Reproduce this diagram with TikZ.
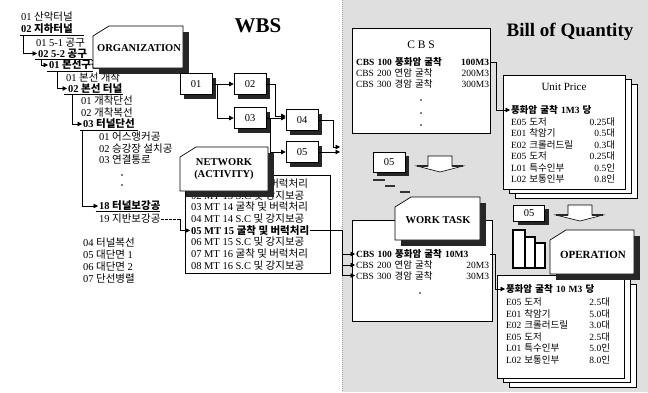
\documentclass[tikz,border=0pt]{standalone}
\usepackage{fontspec}
\setmainfont{Liberation Serif}
\newfontfamily\krf[Scale=1.0]{Noto Sans CJK KR}
\newcommand\hk[1]{{\krf #1}}
\usetikzlibrary{arrows.meta,shadows}
\newcommand\chbox[4]{%
  \fill[black!85] ({#1+6},{#2+6}) rectangle ({#3+6},{#4+6});
  \filldraw[fill=white,line width=0.7pt] (#1,{#2+10}) -- ({#1+16},#2) -- (#3,#2) -- (#3,#4) -- (#1,#4) -- cycle;}
\newcommand\pagestack[4]{%
  \filldraw[fill=white,line width=0.7pt] ({#1+12},{#2+9}) rectangle ({#3+12},{#4+9});
  \filldraw[fill=white,line width=0.7pt] ({#1+6},{#2+4}) rectangle ({#3+6},{#4+4});
  \filldraw[fill=white,line width=0.7pt] (#1,#2) rectangle (#3,#4);}
\begin{document}
\begin{tikzpicture}[x=1pt,y=-1pt,
  lt/.style={anchor=west,inner sep=0pt,outer sep=1pt,font=\fontsize{10.5}{11}\selectfont},
  bt/.style={font=\fontsize{10.5}{11}\selectfont\bfseries},
  vrow/.style={anchor=west,inner sep=0pt,outer sep=1pt,text width=#1,font=\fontsize{9.5}{10}\selectfont},
  ln/.style={line width=0.6pt},
  arr/.style={line width=0.6pt,-{Triangle[length=4.5pt,width=4.5pt]}},
  dotmark/.style={circle,fill=black,inner sep=0pt,minimum size=1.6pt},
  sbox/.style={draw,fill=white,line width=0.6pt,minimum width=32pt,minimum height=21pt,inner sep=0pt,
     font=\fontsize{10.5}{11}\selectfont,
     drop shadow={shadow xshift=4pt,shadow yshift=-4pt,fill=black!85,opacity=1}},
  title/.style={inner sep=0pt,font=\fontsize{10.5}{12.5}\selectfont\bfseries,align=center}
]
\useasboundingbox (0,0) rectangle (648,392);
\fill[gray!25] (342,0) rectangle (648,392);
\draw[gray!70,dash pattern=on 1pt off 1pt] (342,0) -- (342,392);

% ---------------- left tree ----------------
\node[lt] (t1) at (20,17) {01 \hk{산악터널}};
\node[lt,bt] (t2) at (20,29) {02 \hk{지하터널}};
\draw[ln] (20,35.5) -- (84,35.5);
\coordinate (u2) at (23,35.5);
\node[lt] (t3) at (35,43) {01 5-1 \hk{공구}};
\node[lt,bt] (t4) at (37,53.5) {02 5-2 \hk{공구}};
\draw[ln] (35,59) -- (92,59);
\coordinate (u4) at (41,59);
\node[lt,bt] (t5) at (48,65) {01 \hk{본선구간}};
\draw[ln] (47,71) -- (93,71);
\coordinate (u5) at (57,71);
\node[lt] (t6) at (65,77.5) {01 \hk{본선 개착}};
\node[lt,bt] (t7) at (67,88.5) {02 \hk{본선 터널}};
\draw[ln] (64,94.5) -- (123,94.5);
\coordinate (u7) at (72,94.5);
\node[lt] (t8) at (80,101) {01 \hk{개착단선}};
\node[lt] (t9) at (80,112.5) {02 \hk{개착복선}};
\node[lt,bt] (t10) at (82,124) {03 \hk{터널단선}};
\draw[ln] (80,130) -- (138,130);
\coordinate (u10) at (82,130);
\node[lt] (t11) at (98,137) {01 \hk{어스앵커공}};
\node[lt] (t12) at (98,148.5) {02 \hk{승강장 설치공}};
\node[lt] (t13) at (98,160) {03 \hk{연결통로}};
\node[dotmark] (d1) at (122,175) {};
\node[dotmark] (d2) at (122,185) {};
\node[lt,bt] (t14) at (98,206) {18 \hk{터널보강공}};
\draw[ln] (96,211.5) -- (160,211.5);
\node[lt] (t15) at (98,219) {19 \hk{지반보강공}};
\node[lt] (t16) at (82,243) {04 \hk{터널복선}};
\node[lt] (t17) at (82,255) {05 \hk{대단면} 1};
\node[lt] (t18) at (82,267) {06 \hk{대단면} 2};
\node[lt] (t19) at (82,279) {07 \hk{단선병렬}};
\draw[arr] (u2) |- (t4);
\draw[arr] (u4) |- (t5);
\draw[arr] (u5) |- (t7);
\draw[arr] (u7) |- (t10);
\draw[arr] (u10) |- (t14);

% ORGANIZATION
\chbox{93}{26}{183}{68}
\node[title] (org) at (139,48) {ORGANIZATION};

% WBS title
\node[inner sep=0pt,font=\fontsize{21}{24}\selectfont\bfseries] (wbs) at (258,26) {WBS};

% WBS boxes
\node[sbox] (b1) at (196,84) {01};
\node[sbox] (b2) at (250,84) {02};
\node[sbox] (b3) at (250,118) {03};
\node[sbox] (b4) at (302,120) {04};
\node[sbox] (b5) at (302,152) {05};
\coordinate (o1) at (340,147);
\coordinate (o2) at (340,152);
\draw[arr] (b1) -- (b2);
\draw[arr] (b1.east) -- ++(5,0) |- (b3);
\draw[arr] (b2.east) -- ++(9,0) |- ([yshift=4pt]b4.west);
\draw[arr] (b3.east) -- (b3.east -| b4.west);
\draw[arr] (b3.east) -- ++(4,0) |- (b5);
\draw[arr] (b4.east) -- ++(15,0) |- (o1);
\draw[arr] (b5.east) -- (o2);

% activity list
\filldraw[fill=white,line width=0.6pt] (185,175) rectangle (330,273);
\node[lt] (a1) at (190,184) {01 MT 13 \hk{굴착 및 버럭처리}};
\node[lt] (a2) at (190,195.5) {02 MT 13 S.C \hk{및 강지보공}};
\node[lt] (a3) at (190,207) {03 MT 14 \hk{굴착 및 버럭처리}};
\node[lt] (a4) at (190,219) {04 MT 14 S.C \hk{및 강지보공}};
\node[lt,bt] (a5) at (190,230.5) {05 MT 15 \hk{굴착 및 버럭처리}};
\node[lt] (a6) at (190,242) {06 MT 15 S.C \hk{및 강지보공}};
\node[lt] (a7) at (190,254) {07 MT 16 \hk{굴착 및 버럭처리}};
\node[lt] (a8) at (190,265.5) {08 MT 16 S.C \hk{및 강지보공}};
\chbox{180}{147}{268}{191}
\node[title] (nw) at (224,169) {NETWORK\\(ACTIVITY)};
\coordinate (dd) at (180,219);
\draw[line width=0.6pt,dash pattern=on 2.5pt off 1.5pt] (t15.east) -- (dd);
\draw[arr] (dd) |- (a5);

% ---------------- right side ----------------
\node[inner sep=0pt,font=\fontsize{19}{22}\selectfont\bfseries] (boq) at (570,32) {Bill of Quantity};

% CBS box
\filldraw[fill=white,line width=0.6pt] (352,28) rectangle (490,133);
\node[inner sep=0pt,font=\fontsize{11.5}{12}\selectfont] (cbst) at (421,45) {C B S};
\node[vrow=133pt] (c1) at (355,62) {\bfseries CBS 100 \hk{풍화암 굴착}\hfill 100M3};
\node[vrow=133pt] (c2) at (355,73) {CBS 200 \hk{연암 굴착}\hfill 200M3};
\node[vrow=133pt] (c3) at (355,84) {CBS 300 \hk{경암 굴착}\hfill 300M3};
\node[dotmark] (cd1) at (421,100) {};
\node[dotmark] (cd2) at (421,113) {};
\node[dotmark] (cd3) at (421,125) {};

% Unit price
\pagestack{503}{75}{625}{189}
\node[inner sep=0pt,font=\fontsize{11}{12}\selectfont] (upt) at (564,87) {Unit Price};
\node[vrow=104pt] (uph) at (510,110) {\bfseries \hk{풍화암 굴착} 1M3 \hk{당}};
\node[vrow=104pt] (u1) at (510,121.5) {E05 \hk{도저}\hfill 0.25\hk{대}};
\node[vrow=104pt] (u2r) at (510,133) {E01 \hk{착암기}\hfill 0.5\hk{대}};
\node[vrow=104pt] (u3) at (510,144.5) {E02 \hk{크롤러드릴}\hfill 0.3\hk{대}};
\node[vrow=104pt] (u4r) at (510,156) {E05 \hk{도저}\hfill 0.25\hk{대}};
\node[vrow=104pt] (u5r) at (510,167.5) {L01 \hk{특수인부}\hfill 0.5\hk{인}};
\node[vrow=104pt] (u6) at (510,179) {L02 \hk{보통인부}\hfill 0.8\hk{인}};
\draw[arr] (c1.east) -- ++(6,0) |- (uph);

% middle icon
\node[sbox,minimum height=20pt] (m5) at (389,162) {05};
\draw[line width=2pt,black!80] (373,180) -- (385,180);
\draw[line width=2pt,black!80] (385,186) -- (395,186);
\draw[line width=2pt,black!80] (400,192) -- (410,192);
\filldraw[fill=white,line width=0.6pt] (428,156) -- (452,156) -- (452,166) -- (463,166) -- (440,172) -- (417,166) -- (428,166) -- cycle;
\draw[line width=1.6pt,black!85] (417,166) -- (428,166);
\draw[line width=1.6pt,black!85] (452,166) -- (463,166);

% work task list
\filldraw[fill=white,line width=0.6pt] (352,220) rectangle (492,321);
\node[vrow=133pt] (w1) at (355,254) {\bfseries CBS 100 \hk{풍화암 굴착} 10M3};
\node[vrow=133pt] (w2) at (355,265) {CBS 200 \hk{연암 굴착}\hfill 20M3};
\node[vrow=133pt] (w3) at (355,275.5) {CBS 300 \hk{경암 굴착}\hfill 30M3};
\node[dotmark] (wd) at (420,293) {};
\chbox{395}{197}{480}{240}
\node[title] (wt) at (438,220) {WORK TASK};
\coordinate (j1) at (342,230.5);
\coordinate (j2) at (342,275.5);
\draw[ln] (a5.east) -- (j1) -- (j2);
\draw[arr] (j1 |- w1) -- (w1);
\draw[arr] (j1 |- w2) -- (w2);
\draw[arr] (j2) -- (w3);

% bars
\filldraw[fill=white,line width=1.1pt] (513,230) rectangle (525,268);
\filldraw[fill=white,line width=1.1pt] (525,237) rectangle (535,268);
\filldraw[fill=white,line width=1.1pt] (535,243) rectangle (545,268);

% operation
\pagestack{497}{275}{624}{378}
\node[vrow=106pt] (oph) at (505,289) {\bfseries \hk{풍화암 굴착} 10 M3 \hk{당}};
\node[vrow=104pt] (o1r) at (505,302) {E05 \hk{도저}\hfill 2.5\hk{대}};
\node[vrow=104pt] (o2r) at (505,313.5) {E01 \hk{착암기}\hfill 5.0\hk{대}};
\node[vrow=104pt] (o3r) at (505,325) {E02 \hk{크롤러드릴}\hfill 3.0\hk{대}};
\node[vrow=104pt] (o4r) at (505,336.5) {E05 \hk{도저}\hfill 2.5\hk{대}};
\node[vrow=104pt] (o5r) at (505,348) {L01 \hk{특수인부}\hfill 5.0\hk{인}};
\node[vrow=104pt] (o6r) at (505,359.5) {L02 \hk{보통인부}\hfill 8.0\hk{인}};
\draw[arr] (w1.east) -- ++(5,0) |- (oph);

\chbox{550}{230}{634}{274}
\node[title,font=\fontsize{11}{12}\selectfont\bfseries] (opt) at (593,255) {OPERATION};

% right icon
\node[sbox,minimum width=31pt,minimum height=16pt] (m6) at (529,213) {05};
\filldraw[fill=white,line width=0.6pt] (568,205) -- (592,205) -- (592,215) -- (603,215) -- (580,221) -- (556,215) -- (568,215) -- cycle;
\draw[line width=1.6pt,black!85] (556,215) -- (568,215);
\draw[line width=1.6pt,black!85] (592,215) -- (603,215);
\end{tikzpicture}
\end{document}
